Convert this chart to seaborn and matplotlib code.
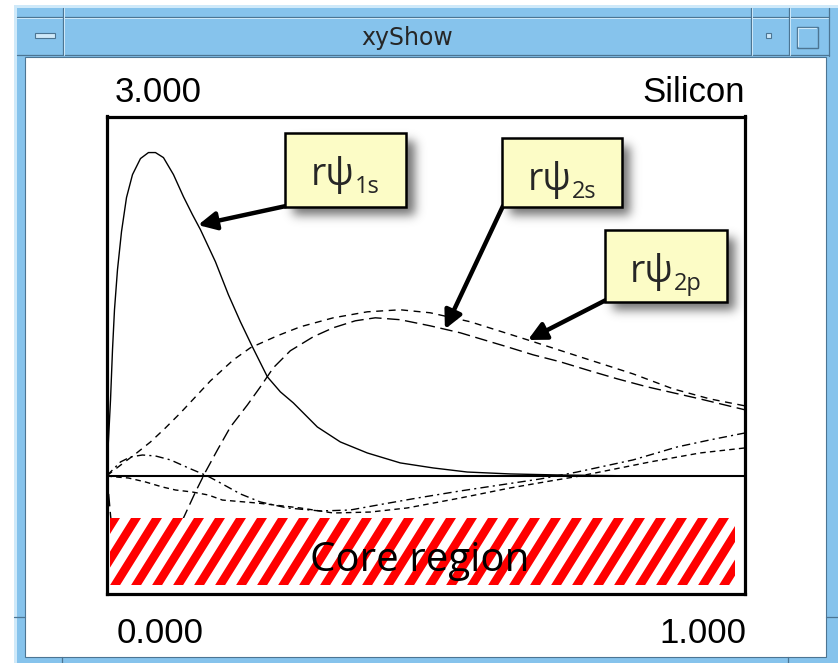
import numpy as np
import pandas as pd
import matplotlib
matplotlib.use("Agg")
import matplotlib.pyplot as plt
import seaborn as sns
from matplotlib.patches import Rectangle, Polygon

# ---- radial wavefunctions r*psi(r) for silicon (r scaled to 0..1) ----
r_1s = [0.0, 0.0031, 0.0063, 0.0094, 0.0125, 0.0172, 0.0235, 0.0313, 0.0407, 0.0532,
        0.0657, 0.0767, 0.0892, 0.1049, 0.1205, 0.1346, 0.1471, 0.1706, 0.1909, 0.2097,
        0.2285, 0.2520, 0.2723, 0.2926, 0.3302, 0.3662, 0.4085, 0.4601, 0.5117, 0.5649,
        0.6322, 0.7105, 0.8357, 1.0]
psi_1s = [0.0, 0.301, 0.635, 1.053, 1.387, 1.721, 2.039, 2.323, 2.515, 2.649,
          2.699, 2.699, 2.657, 2.515, 2.331, 2.181, 2.056, 1.788, 1.513, 1.287,
          1.078, 0.827, 0.702, 0.610, 0.409, 0.284, 0.192, 0.109, 0.067, 0.033,
          0.017, 0.008, 0.0, 0.0]

r_2s = [0.0, 0.0031, 0.0063, 0.011, 0.0219, 0.0454, 0.0767, 0.1033, 0.1205, 0.1393,
        0.1549, 0.1737, 0.1941, 0.2207, 0.2410, 0.2613, 0.2879, 0.3239, 0.3552, 0.3897,
        0.4210, 0.4601, 0.5070, 0.5540, 0.5853, 0.6275, 0.6682, 0.7105, 0.7574, 0.7997,
        0.8466, 0.9296, 1.0]
psi_2s = [0.0, -0.134, -0.326, -0.577, -0.744, -0.802, -0.744, -0.577, -0.351, -0.134,
          0.033, 0.217, 0.409, 0.593, 0.744, 0.903, 1.045, 1.162, 1.237, 1.295,
          1.320, 1.304, 1.253, 1.195, 1.145, 1.078, 1.011, 0.953, 0.877, 0.811,
          0.744, 0.643, 0.552]

r_2p = [0.0, 0.0141, 0.0266, 0.0454, 0.0689, 0.0923, 0.1158, 0.1393, 0.1628, 0.1987,
        0.2254, 0.2676, 0.3036, 0.3552, 0.4085, 0.4601, 0.5070, 0.5696, 0.6588, 0.7418,
        0.8247, 0.8873, 0.9452, 1.0]
psi_2p = [0.0, 0.058, 0.109, 0.184, 0.284, 0.401, 0.526, 0.660, 0.794, 0.969,
          1.070, 1.170, 1.245, 1.320, 1.370, 1.387, 1.362, 1.287, 1.137, 0.994,
          0.852, 0.727, 0.643, 0.585]

r_3s = [0.0, 0.0094, 0.0219, 0.0376, 0.0563, 0.0767, 0.1002, 0.1283, 0.1581, 0.1784,
        0.2097, 0.2410, 0.2832, 0.3349, 0.3818, 0.4335, 0.4867, 0.5540, 0.6166, 0.6792,
        0.7371, 0.8247, 0.8936, 0.9452, 1.0]
psi_3s = [0.0, 0.050, 0.117, 0.159, 0.175, 0.167, 0.134, 0.067, 0.0, -0.058,
          -0.150, -0.217, -0.267, -0.292, -0.284, -0.234, -0.184, -0.125, -0.075, -0.025,
          0.033, 0.134, 0.242, 0.301, 0.359]

r_3p = [0.0, 0.0141, 0.0344, 0.0610, 0.0876, 0.1080, 0.1346, 0.1596, 0.1815, 0.2363,
        0.3036, 0.3552, 0.4131, 0.4710, 0.5540, 0.6322, 0.6948, 0.7418, 0.8513, 0.9296,
        1.0]
psi_3p = [0.0, -0.008, -0.017, -0.050, -0.092, -0.117, -0.134, -0.159, -0.201, -0.226,
          -0.267, -0.309, -0.301, -0.267, -0.184, -0.100, -0.042, 0.0, 0.117, 0.192,
          0.234]

orbital_labels = ["1s", "2s", "2p"]
y_max_label = "3.000"
x_min_label = "0.000"
x_max_label = "1.000"
element = "Silicon"
window_title = "xyShow"
region_label = "Core region"

W, H = 838, 663
sns.set_theme(style="white")
plt.rcParams["font.family"] = ["Liberation Sans", "DejaVu Sans"]

fig = plt.figure(figsize=(W / 100, H / 100), dpi=100)
fig.patch.set_facecolor("white")


def fig_rect(left, top, right, bottom):
    return [left / W, 1 - bottom / H, (right - left) / W, (bottom - top) / H]


# ---- window frame (pixel coordinates, y downward) ----
bg = fig.add_axes([0, 0, 1, 1], zorder=-1)
bg.set_xlim(0, W)
bg.set_ylim(H, 0)
bg.axis("off")
blue, light, dark = "#86c3ec", "#cfe9f9", "#4c7593"
bg.add_patch(Rectangle((14, 5), W - 14, H - 5, fc=blue, ec="none"))
bg.add_patch(Rectangle((14, 5), 3, H - 5, fc=light, ec="none"))
bg.add_patch(Rectangle((14, 5), W - 14, 3, fc=light, ec="none"))
bg.add_patch(Rectangle((25, 57), 801, 600, fc="white", ec=dark, lw=0.8))
for yy in (16.5, 54.5):
    bg.plot([17, 829], [yy, yy], color=dark, lw=0.9)
bg.plot([17, 829], [18, 18], color=light, lw=0.7)
for xx in (62.5, 750.5, 788.5):
    bg.plot([xx, xx], [8, 55], color=dark, lw=0.9)
    bg.plot([xx + 1.5, xx + 1.5], [8, 55], color=light, lw=0.7)
bg.plot([829, 829], [8, 56], color=dark, lw=0.9)
# resize-handle notches
bg.plot([14, 25], [617, 617], color=dark, lw=0.9)
bg.plot([826, 838], [617, 617], color=dark, lw=0.9)
bg.plot([62, 62], [657, 663], color=dark, lw=0.9)
bg.plot([788, 788], [657, 663], color=dark, lw=0.9)
# title-bar buttons
bg.add_patch(Rectangle((35, 33), 20, 5, fc=light, ec=dark, lw=0.8))
bg.add_patch(Rectangle((766, 33), 5, 5, fc=light, ec=dark, lw=0.8))
bg.add_patch(Rectangle((797, 27), 21, 21, fc=blue, ec=dark, lw=1.0))
bg.plot([798, 798, 816], [46, 28, 28], color=light, lw=0.8)
bg.text(407, 38, window_title, ha="center", va="center", fontsize=17,
        family="DejaVu Sans", color="#262626")

# ---- plot area ----
ax = fig.add_axes(fig_rect(106.5, 116.5, 745, 594))
ax.set_facecolor("white")
styles = [
    (r_1s, psi_1s, "-"),
    (r_2s, psi_2s, (0, (9, 4))),
    (r_2p, psi_2p, (0, (5, 4))),
    (r_3s, psi_3s, (0, (6, 3, 1.5, 3))),
    (r_3p, psi_3p, (0, (4, 3))),
]
for rr, pp, ls in styles:
    df = pd.DataFrame({"r": rr, "psi": pp})
    sns.lineplot(data=df, x="r", y="psi", ax=ax, color="black", lw=1.0,
                 linestyle=ls, sort=False, estimator=None)
ax.axhline(0, color="black", lw=1.5)
ax.set_xlim(0, 1)
ax.set_ylim(-0.985, 3.0)
ax.set_xticks([])
ax.set_yticks([])
ax.set_xlabel("")
ax.set_ylabel("")
for sp in ax.spines.values():
    sp.set_visible(True)
    sp.set_color("black")
    sp.set_linewidth(2.3)

# ---- overlay for labels, boxes and the hatched region ----
ov = fig.add_axes([0, 0, 1, 1], zorder=10)
ov.set_xlim(0, W)
ov.set_ylim(H, 0)
ov.axis("off")

txt = dict(fontsize=25, family=["Liberation Sans", "DejaVu Sans"], color="black", va="baseline")
ov.text(115, 102, y_max_label, ha="left", **txt)
ov.text(745, 102, element, ha="right", **txt)
ov.text(117, 643, x_min_label, ha="left", **txt)
ov.text(746, 643, x_max_label, ha="right", **txt)

# hatched core region
hx0, hy0, hx1, hy1 = 110, 518, 735, 585
clip = Rectangle((hx0, hy0), hx1 - hx0, hy1 - hy0, fc="white", ec="none", zorder=2)
ov.add_patch(clip)
period, stripe = 21.0, 10.0
shift = (hy1 - hy0) / np.tan(np.radians(58))
for xs in np.arange(hx0 - shift - period, hx1 + period, period):
    p = Polygon([(xs, hy1), (xs + stripe, hy1), (xs + stripe + shift, hy0), (xs + shift, hy0)],
                closed=True, fc="#ff0000", ec="none", zorder=3)
    ov.add_patch(p)
    p.set_clip_path(clip)
ov.text(420, 571, region_label, ha="center", va="baseline", fontsize=29,
        family=["Open Sans", "DejaVu Sans"], color="black", zorder=4)


def add_shadow(x0, y0, w, h, off=8, blur=5.0):
    pad = int(3 * blur)
    aw, ah = int(w) + 2 * pad, int(h) + 2 * pad
    a = np.zeros((ah, aw))
    a[pad:pad + int(h), pad:pad + int(w)] = 1.0
    k = np.exp(-0.5 * (np.arange(-pad, pad + 1) / blur) ** 2)
    k /= k.sum()
    a = np.apply_along_axis(lambda v: np.convolve(v, k, mode="same"), 1, a)
    a = np.apply_along_axis(lambda v: np.convolve(v, k, mode="same"), 0, a)
    img = np.zeros((ah, aw, 4))
    img[..., :3] = 0.35
    img[..., 3] = a * 0.85
    left, top = x0 + off - pad, y0 + off - pad
    ov.imshow(img, extent=(left, left + aw, top + ah, top), origin="upper",
              interpolation="bilinear", aspect="auto", zorder=1)


renderer = fig.canvas.get_renderer()
label_font = ["Open Sans", "DejaVu Sans"]

# label boxes: (left, top, right, bottom), arrow tail, target r
boxes = [
    ((285, 133, 406, 207), (286, 206), 0.1433, r_1s, psi_1s),
    ((502, 138, 622, 207), (503, 206), 0.530, r_2s, psi_2s),
    ((605, 230, 727, 302), (606, 300), 0.660, r_2p, psi_2p),
]
for name, ((l, t, r, b), tail, rt, rr, pp) in zip(orbital_labels, boxes):
    add_shadow(l, t, r - l, b - t)
    ov.add_patch(Rectangle((l, t), r - l, b - t, fc="#fcfcc6", ec="black", lw=1.8, zorder=3))
    main = ov.text(0, t + 52, "r\u03c8", ha="left", va="baseline", fontsize=27,
                   family=label_font, zorder=4)
    sub = ov.text(0, t + 60, name, ha="left", va="baseline", fontsize=17,
                  family=label_font, zorder=4)
    w_main = main.get_window_extent(renderer).width
    w_sub = sub.get_window_extent(renderer).width
    gap = 0.5
    start = (l + r) / 2 - (w_main + gap + w_sub) / 2
    main.set_x(start)
    sub.set_x(start + w_main + gap)
    ov.annotate("", xy=(rt, float(np.interp(rt, rr, pp))), xycoords=ax.transData,
                xytext=tail, textcoords="data",
                arrowprops=dict(arrowstyle="-|>,head_length=0.9,head_width=0.45",
                                lw=3.2, color="black", shrinkA=0, shrinkB=0),
                zorder=2)
ov.set_xlim(0, W)
ov.set_ylim(H, 0)

fig.savefig("out.png", dpi=100)
